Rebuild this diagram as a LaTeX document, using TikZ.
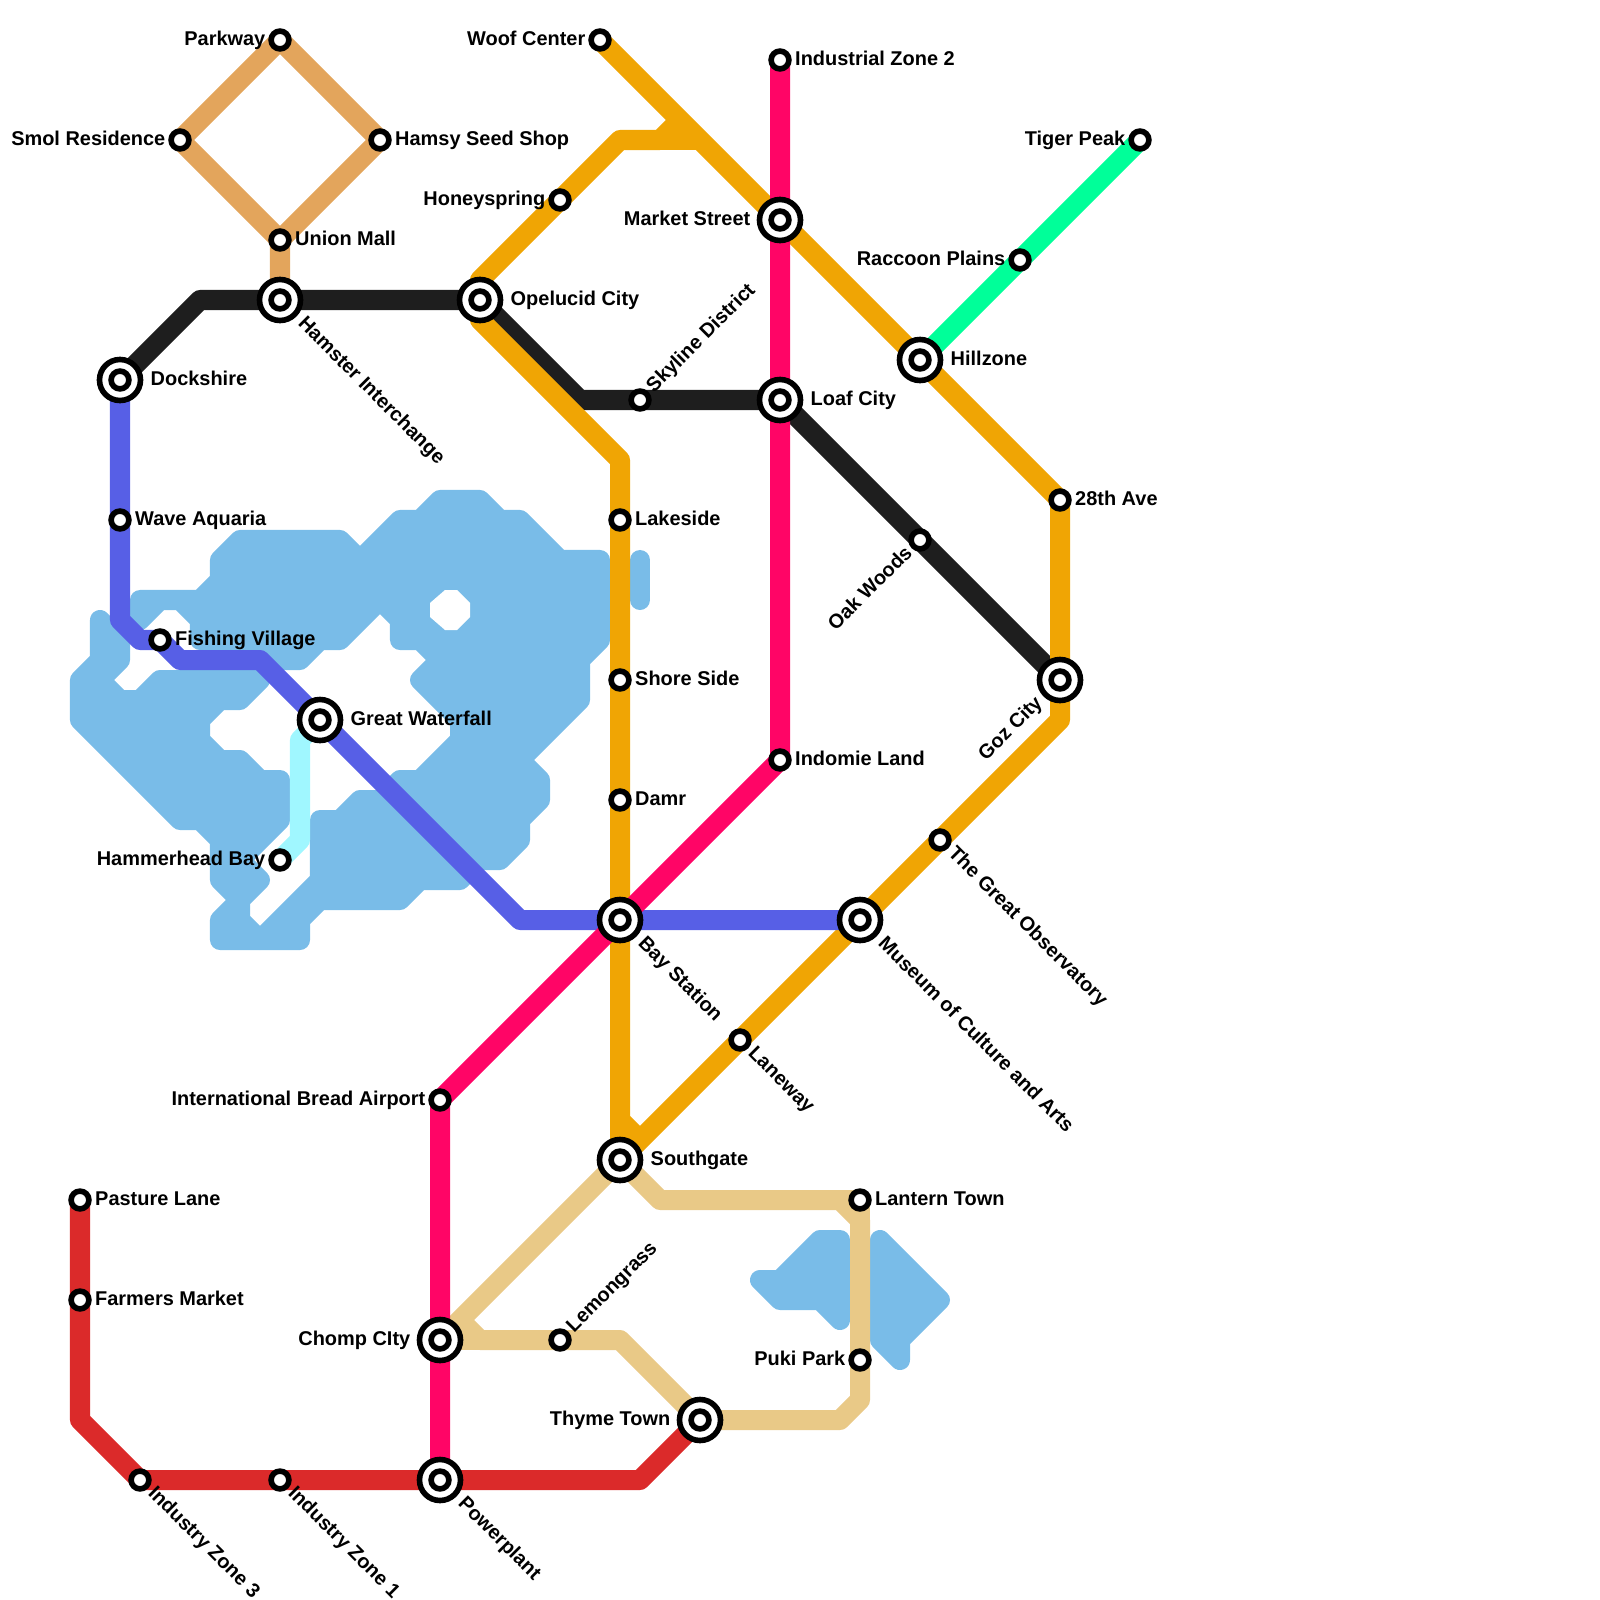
\documentclass[tikz,border=0pt]{standalone}
\usepackage{fontspec}
\setmainfont{Liberation Sans}
\usepackage{xcolor}
\usetikzlibrary{backgrounds}
\definecolor{water}{RGB}{121,188,232}
\definecolor{amber}{RGB}{240,165,4}
\definecolor{copper}{RGB}{227,165,92}
\definecolor{coal}{RGB}{30,30,30}
\definecolor{indigo}{RGB}{87,95,230}
\definecolor{rose}{RGB}{255,5,102}
\definecolor{mint}{RGB}{0,255,153}
\definecolor{aqua}{RGB}{160,247,255}
\definecolor{sand}{RGB}{233,201,135}
\definecolor{brick}{RGB}{219,42,42}

\begin{document}
\begin{tikzpicture}[x=0.01cm, y=-0.01cm,
  stn/.style={draw=black, circle, line width=0.056cm, fill=white, minimum size=0.178cm, inner sep=0pt, outer sep=0pt},
  hub/.style={stn, minimum size=0.41cm},
  hubin/.style={stn, minimum size=0.178cm},
  txt/.style={font=\bfseries\fontsize{5.67pt}{6pt}\selectfont, text=black, inner sep=0pt, text height=0.145cm, text depth=0.04cm},
  tE/.style={txt, anchor=west, xshift=0.145cm},
  tW/.style={txt, anchor=east, xshift=-0.14cm},
  bE/.style={txt, anchor=west, xshift=0.3cm},
  bW/.style={txt, anchor=east, xshift=-0.29cm},
  tSE/.style={txt, anchor=west, xshift=0.105cm, yshift=-0.1cm, rotate=-45},
  bSE/.style={txt, anchor=west, xshift=0.205cm, yshift=-0.205cm, rotate=-45},
  tNE/.style={txt, anchor=west, xshift=0.1cm, yshift=0.1cm, rotate=45},
  tSW/.style={txt, anchor=east, xshift=-0.1cm, yshift=-0.1cm, rotate=45},
  bSW/.style={txt, anchor=east, xshift=-0.2cm, yshift=-0.2cm, rotate=45},
  lake/.style={fill=water, draw=water, line width=0.2cm, line join=round, line cap=round},
  route/.style={line width=0.2cm, line join=round}]
\useasboundingbox (0,0) rectangle (1600,1600);
% stations
\node[stn] (parkway) at (280,40) {};
\node[stn] (smol) at (180,140) {};
\node[stn] (hamsy) at (380,140) {};
\node[stn] (union) at (280,240) {};
\node[hub] (hamster) at (280,300) {}; \node[hubin] (hamsterin) at (hamster) {};
\node[hub] (opelucid) at (480,300) {}; \node[hubin] (opelucidin) at (opelucid) {};
\node[hub] (dockshire) at (120,380) {}; \node[hubin] (dockshirein) at (dockshire) {};
\node[stn] (wave) at (120,520) {};
\node[stn] (fishing) at (160,640) {};
\node[hub] (waterfall) at (320,720) {}; \node[hubin] (waterfallin) at (waterfall) {};
\node[stn] (hammerhead) at (280,860) {};
\node[stn] (woof) at (600,40) {};
\node[stn] (honey) at (560,200) {};
\node[stn] (zonetwo) at (780,60) {};
\node[hub] (market) at (780,220) {}; \node[hubin] (marketin) at (market) {};
\node[stn] (tiger) at (1140,140) {};
\node[stn] (raccoon) at (1020,260) {};
\node[hub] (hillzone) at (920,360) {}; \node[hubin] (hillzonein) at (hillzone) {};
\node[stn] (skyline) at (640,400) {};
\node[hub] (loaf) at (780,400) {}; \node[hubin] (loafin) at (loaf) {};
\node[stn] (lakeside) at (620,520) {};
\node[stn] (shore) at (620,680) {};
\node[stn] (damr) at (620,800) {};
\node[stn] (ave) at (1060,500) {};
\node[stn] (oak) at (920,540) {};
\node[hub] (goz) at (1060,680) {}; \node[hubin] (gozin) at (goz) {};
\node[stn] (indomie) at (780,760) {};
\node[stn] (observatory) at (940,840) {};
\node[hub] (bay) at (620,920) {}; \node[hubin] (bayin) at (bay) {};
\node[hub] (museum) at (860,920) {}; \node[hubin] (museumin) at (museum) {};
\node[stn] (laneway) at (740,1040) {};
\node[stn] (airport) at (440,1100) {};
\node[hub] (southgate) at (620,1160) {}; \node[hubin] (southgatein) at (southgate) {};
\node[stn] (lantern) at (860,1200) {};
\node[stn] (pasture) at (80,1200) {};
\node[stn] (farmers) at (80,1300) {};
\node[hub] (chomp) at (440,1340) {}; \node[hubin] (chompin) at (chomp) {};
\node[stn] (lemon) at (560,1340) {};
\node[stn] (puki) at (860,1360) {};
\node[hub] (thyme) at (700,1420) {}; \node[hubin] (thymein) at (thyme) {};
\node[hub] (powerplant) at (440,1480) {}; \node[hubin] (powerplantin) at (powerplant) {};
\node[stn] (zoneone) at (280,1480) {};
\node[stn] (zonethree) at (140,1480) {};
% labels
\node[tW] (parkwayt) at (parkway) {Parkway};
\node[tW] (smolt) at (smol) {Smol Residence};
\node[tE] (hamsyt) at (hamsy) {Hamsy Seed Shop};
\node[tE] (uniont) at (union) {Union Mall};
\node[bSE] (hamstert) at (hamster) {Hamster Interchange};
\node[bE] (opelucidt) at (opelucid) {Opelucid City};
\node[bE] (dockshiret) at (dockshire) {Dockshire};
\node[tE] (wavet) at (wave) {Wave Aquaria};
\node[tE] (fishingt) at (fishing) {Fishing Village};
\node[bE] (waterfallt) at (waterfall) {Great Waterfall};
\node[tW] (hammerheadt) at (hammerhead) {Hammerhead Bay};
\node[tW] (wooft) at (woof) {Woof Center};
\node[tW] (honeyt) at (honey) {Honeyspring};
\node[tE] (zonetwot) at (zonetwo) {Industrial Zone 2};
\node[bW] (markett) at (market) {Market Street};
\node[tW] (tigert) at (tiger) {Tiger Peak};
\node[tW] (raccoont) at (raccoon) {Raccoon Plains};
\node[bE] (hillzonet) at (hillzone) {Hillzone};
\node[tNE] (skylinet) at (skyline) {Skyline District};
\node[bE] (loaft) at (loaf) {Loaf City};
\node[tE] (lakesidet) at (lakeside) {Lakeside};
\node[tE] (shoret) at (shore) {Shore Side};
\node[tE] (damrt) at (damr) {Damr};
\node[tE] (avet) at (ave) {28th Ave};
\node[tSW] (oakt) at (oak) {Oak Woods};
\node[bSW] (gozt) at (goz) {Goz City};
\node[tE] (indomiet) at (indomie) {Indomie Land};
\node[tSE] (observatoryt) at (observatory) {The Great Observatory};
\node[bSE] (bayt) at (bay) {Bay Station};
\node[bSE] (museumt) at (museum) {Museum of Culture and Arts};
\node[tSE] (lanewayt) at (laneway) {Laneway};
\node[tW] (airportt) at (airport) {International Bread Airport};
\node[bE] (southgatet) at (southgate) {Southgate};
\node[tE] (lanternt) at (lantern) {Lantern Town};
\node[tE] (pasturet) at (pasture) {Pasture Lane};
\node[tE] (farmerst) at (farmers) {Farmers Market};
\node[bW] (chompt) at (chomp) {Chomp CIty};
\node[tNE] (lemont) at (lemon) {Lemongrass};
\node[tW] (pukit) at (puki) {Puki Park};
\node[bW] (thymet) at (thyme) {Thyme Town};
\node[bSE] (powerplantt) at (powerplant) {Powerplant};
\node[tSE] (zoneonet) at (zoneone) {Industry Zone 1};
\node[tSE] (zonethreet) at (zonethree) {Industry Zone 3};
\begin{scope}[on background layer]
% water
\draw[lake] (240,540) -- (340,540) -- (360,560) -- (400,520) -- (420,520) -- (440,500) -- (480,500) -- (500,520) -- (520,520) -- (560,560) -- (600,560) -- (600,640) -- (580,660) -- (580,700) -- (520,760) -- (540,780) -- (540,800) -- (520,820) -- (520,840) -- (500,860) -- (480,860) -- (460,880) -- (420,880) -- (400,900) -- (320,900) -- (300,920) -- (300,940) -- (260,940) -- (320,880) -- (320,820) -- (340,820) -- (360,800) -- (380,800) -- (400,780) -- (420,780) -- (460,740) -- (460,720) -- (420,680) -- (440,660) -- (420,640) -- (400,640) -- (400,620) -- (380,600) -- (340,640) -- (320,640) -- (300,660) -- (260,660) -- (260,640) -- (200,640) -- (200,620) -- (180,600) -- (160,600) -- (140,620) -- (140,600) -- (200,600) -- (220,580) -- (220,560) -- cycle;
\fill[white] (445,590) -- (457,590) -- (470,603) -- (470,617) -- (457,630) -- (445,630) -- (430,617) -- (430,603) -- cycle;
\draw[lake] (640,560) -- (640,600);
\draw[lake] (100,620) -- (120,640) -- (120,660) -- (100,680) -- (120,700) -- (140,700) -- (160,680) -- (260,680) -- (240,700) -- (220,700) -- (200,720) -- (200,740) -- (220,760) -- (240,760) -- (260,780) -- (280,780) -- (280,820) -- (240,860) -- (260,880) -- (240,900) -- (240,920) -- (260,940) -- (220,940) -- (220,920) -- (240,900) -- (220,880) -- (220,840) -- (200,820) -- (180,820) -- (80,720) -- (80,680) -- (100,660) -- cycle;
\draw[lake] (760,1280) -- (780,1280) -- (820,1240) -- (840,1240) -- (840,1320) -- (820,1300) -- (780,1300) -- cycle;
\draw[lake] (880,1240) -- (940,1300) -- (900,1340) -- (900,1360) -- (880,1340) -- cycle;
% lines
\draw[route, aqua] (waterfall.center) -- (300,740) -- (300,840) -- (hammerhead.center);
\draw[route, copper] (parkway.center) -- (hamsy.center) -- (280,240) -- (union.center) -- (hamster.center);
\draw[route, copper] (parkway.center) -- (smol.center) -- (union.center);
\draw[route, sand] (southgate.center) -- (660,1200) -- (840,1200) -- (860,1220) -- (860,1400) -- (840,1420) -- (thyme.center);
\draw[route, sand] (840,1200) -- (lantern.center) -- (860,1220);
\draw[route, sand] (southgate.center) -- (chomp.center) -- (460,1320) -- (480,1340) -- (620,1340) -- (thyme.center);
\draw[route, sand] (chomp.center) -- (lemon.center);
\draw[route, coal] (dockshire.center) -- (200,300) -- (hamster.center) -- (opelucid.center) -- (580,400) -- (skyline.center) -- (loaf.center) -- (oak.center) -- (goz.center);
\draw[route, amber] (woof.center) -- (market.center) -- (hillzone.center) -- (ave.center) -- (goz.center) -- (1060,720) -- (observatory.center) -- (museum.center) -- (laneway.center) -- (640,1140) -- (southgate.center);
\draw[route, amber] (680,120) -- (660,140) -- (620,140) -- (honey.center) -- (480,280) -- (opelucid.center) -- (480,320) -- (620,460) -- (lakeside.center) -- (shore.center) -- (damr.center) -- (bay.center) -- (620,1120) -- (640,1140);
\draw[route, amber] (620,1120) -- (southgate.center);
\draw[route, amber] (660,140) -- (700,140);
\draw[route, mint] (tiger.center) -- (raccoon.center) -- (hillzone.center);
\draw[route, indigo] (dockshire.center) -- (wave.center) -- (120,620) -- (140,640) -- (fishing.center) -- (180,660) -- (260,660) -- (waterfall.center) -- (520,920) -- (bay.center) -- (museum.center);
\draw[route, brick] (pasture.center) -- (farmers.center) -- (80,1420) -- (zonethree.center) -- (zoneone.center) -- (powerplant.center) -- (640,1480) -- (thyme.center);
\draw[route, rose] (zonetwo.center) -- (market.center) -- (loaf.center) -- (indomie.center) -- (bay.center) -- (airport.center) -- (chomp.center) -- (powerplant.center);
\end{scope}
\end{tikzpicture}
\end{document}
